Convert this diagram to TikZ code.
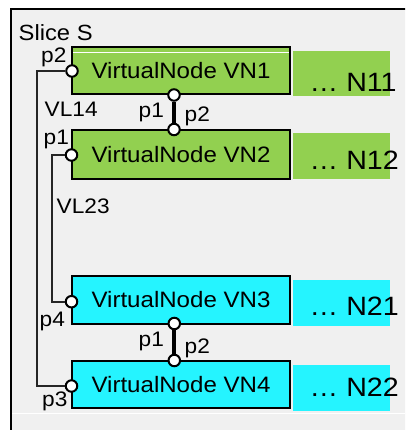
\documentclass[tikz,border=0pt]{standalone}
\usepackage{fontspec}
\setmainfont{Liberation Sans}[FakeStretch=1.08]
\definecolor{vgreen}{HTML}{92D050}
\definecolor{vcyan}{HTML}{25F4FF}
\definecolor{bgray}{HTML}{F0F0F0}
\begin{document}
\begin{tikzpicture}[x=1pt,y=-1pt,
  vnbox/.style={draw=black, line width=2pt, minimum width=218pt, minimum height=47.5pt, inner sep=0pt,
    font=\fontsize{22.3}{24}\selectfont},
  ntext/.style={anchor=base west, inner sep=0pt, font=\fontsize{26.5}{28}\selectfont},
  lbl/.style={anchor=base west, inner sep=0pt, font=\fontsize{21}{23}\selectfont},
  vllbl/.style={anchor=base west, inner sep=0pt, font=\fontsize{21}{23}\selectfont},
  port/.style={circle, draw=black, line width=2pt, fill=white, inner sep=0pt, minimum size=11.5pt},
  vlink/.style={draw=black!85, line width=2pt},
  plink/.style={draw=black, line width=4.2pt}]
\useasboundingbox (0,0) rectangle (405,430);
\clip (0,0) rectangle (405,430);
\fill[white] (0,0) rectangle (405,430);
\draw[line width=1.8pt, fill=bgray] (11,9) rectangle (430,450);
\draw[white, line width=1pt] (12,413) -- (405,413);
\node[anchor=base west, inner sep=0pt, font=\fontsize{22}{24}\selectfont] (slice) at (18.5,41) {Slice S};
% virtual nodes
\node[vnbox, fill=vgreen] (vn1) at (181,70.7) {VirtualNode VN1};
\draw[white, line width=0.8pt] (73,52.7) -- (288.5,52.7);
\node[vnbox, fill=vgreen, minimum height=49pt] (vn2) at (181,154.8) {VirtualNode VN2};
\node[vnbox, fill=vcyan] (vn3) at (181,300) {VirtualNode VN3};
\node[vnbox, fill=vcyan] (vn4) at (181,384.7) {VirtualNode VN4};
% physical node strips
\fill[vgreen] (293.3,51) rectangle (390,95.7);
\fill[vgreen] (293.3,132.7) rectangle (390,179);
\fill[vcyan] (292.7,280) rectangle (390,325.7);
\fill[vcyan] (292.7,365) rectangle (390,411);
\node[ntext] (n11) at (309.5,91.7) {… N11};
\node[ntext] (n12) at (309.5,170) {… N12};
\node[ntext] (n21) at (309.5,315.7) {… N21};
\node[ntext] (n22) at (309.5,396) {… N22};
% ports
\node[port] (vn1p2) at (72,71) {};
\node[port] (vn1p1) at (174,95) {};
\node[port] (vn2p2) at (174,129.5) {};
\node[port] (vn2p1) at (71.5,155) {};
\node[port] (vn3p4) at (71.5,301.7) {};
\node[port] (vn3p1) at (174.3,323.5) {};
\node[port] (vn4p2) at (174.3,360.5) {};
\node[port] (vn4p3) at (71.5,386) {};
% links
\coordinate (b14) at (37.3,71);
\coordinate (b23) at (51.7,155);
\draw[vlink] (vn1p2) -- (b14) |- (vn4p3);
\draw[vlink] (vn2p1) -- (b23) |- (vn3p4);
\draw[plink] (vn1p1) -- (vn2p2);
\draw[plink] (vn3p1) -- (vn4p2);
% labels
\node[lbl] (lp2a) at (41,63) {p2};
\node[vllbl] (lvl14) at (44.5,117) {VL14};
\node[lbl] (lp1b) at (43.5,145) {p1};
\node[lbl] (lp1a) at (138.5,117.5) {p1};
\node[lbl] (lp2b) at (184.5,122) {p2};
\node[vllbl] (lvl23) at (56.5,213) {VL23};
\node[lbl] (lp4) at (39.5,326) {p4};
\node[lbl] (lp3) at (42,406) {p3};
\node[lbl] (lp1c) at (138.5,346.7) {p1};
\node[lbl] (lp2c) at (184.5,353.3) {p2};
\end{tikzpicture}
\end{document}
